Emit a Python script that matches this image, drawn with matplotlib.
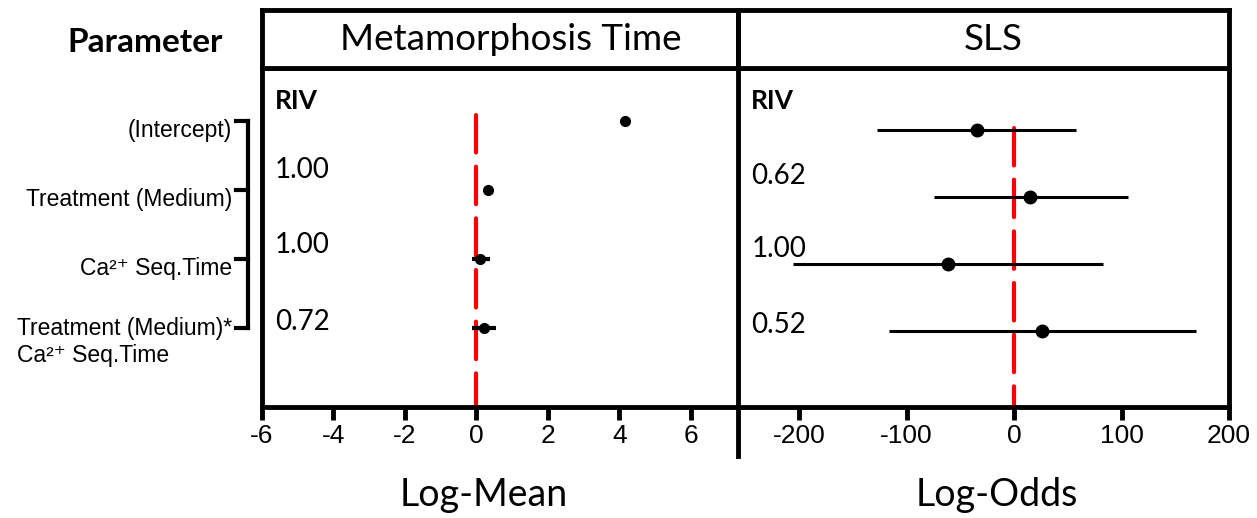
import numpy as np
import matplotlib
matplotlib.use("Agg")
import matplotlib.pyplot as plt
from matplotlib.transforms import blended_transform_factory
from matplotlib.lines import Line2D

plt.rcParams['font.family'] = ['Liberation Sans', 'DejaVu Sans']
plt.rcParams['axes.unicode_minus'] = False

# parameters (rows, top to bottom)
params = ['(Intercept)', 'Treatment (Medium)', 'Ca²⁺ Seq.Time',
          'Treatment (Medium)*\nCa²⁺ Seq.Time']
rows = np.arange(len(params))

# Metamorphosis Time, log-mean estimates and intervals
mt_est = np.array([4.15, 0.32, 0.10, 0.22])
mt_lo = np.array([4.15, 0.32, -0.12, -0.12])
mt_hi = np.array([4.15, 0.32, 0.38, 0.55])
mt_riv = ['1.00', '1.00', '0.72']

# SLS, log-odds estimates and intervals
sls_est = np.array([-35, 15, -62, 26])
sls_lo = np.array([-128, -75, -206, -116])
sls_hi = np.array([58, 106, 83, 169])
sls_riv = ['0.62', '1.00', '0.52']

mt_ticks = [-6, -4, -2, 0, 2, 4, 6]
sls_ticks = [-200, -100, 0, 100, 200]

W, H = 1257, 518
def box(x0, y0, x1, y1):
    return [x0 / W, 1 - y1 / H, (x1 - x0) / W, (y1 - y0) / H]

CAL = ['Lato', 'DejaVu Sans']
LW = 3.5

fig = plt.figure(figsize=(W / 100, H / 100), dpi=100)

ax1 = fig.add_axes(box(262, 68, 738, 407))
ax2 = fig.add_axes(box(738, 68, 1229, 407))
h1 = fig.add_axes(box(262, 10, 738, 68))
h2 = fig.add_axes(box(738, 10, 1229, 68))

for h, title, cx in [(h1, 'Metamorphosis Time', 0.522), (h2, 'SLS', 0.52)]:
    h.set_xticks([])
    h.set_yticks([])
    for s in h.spines.values():
        s.set_linewidth(LW)
    h.text(cx, 0.5, title, transform=h.transAxes, ha='center', va='center',
           fontsize=26.5, family=CAL)

panels = [
    (ax1, mt_est, mt_lo, mt_hi, mt_riv, mt_ticks, (-6, 7.32), (4.14, -0.77), -0.09, 'Log-Mean', 484),
    (ax2, sls_est, sls_lo, sls_hi, sls_riv, sls_ticks, (-257, 200), (4.13, -0.93), -0.03, 'Log-Odds', 997),
]

riv_y = [0.699, 0.478, 0.251]
riv_y2 = [0.681, 0.466, 0.242]

for k, (ax, est, lo, hi, riv, ticks, xl, yl, top, xlab, xlx) in enumerate(panels):
    ax.plot([0, 0], [top, yl[0]], color='red', lw=3, dashes=[9, 3.4],
            dash_capstyle='round', zorder=1)
    ax.errorbar(est, rows, xerr=[est - lo, hi - est], fmt='o', color='k',
                ms=9 if k else 7, elinewidth=2.2 if k else 3, capsize=0, zorder=3)
    ax.set_xlim(*xl)
    ax.set_ylim(*yl)
    ax.set_yticks([])
    ax.set_xticks(ticks)
    ax.set_xticklabels([str(t) for t in ticks])
    ax.tick_params(axis='x', length=9, width=3.5, labelsize=19, pad=3)
    for s in ax.spines.values():
        s.set_linewidth(LW)
    if k == 0:
        ax.spines['right'].set_visible(False)
    else:
        ax.spines['left'].set_visible(False)
    ax.text(0.027, 0.903, 'RIV', transform=ax.transAxes, fontsize=19,
            fontweight='bold', family=CAL, ha='left', va='center')
    ys = riv_y if k == 0 else riv_y2
    for v, y in zip(riv, ys):
        ax.text(0.027, y, v, transform=ax.transAxes, fontsize=20, family=CAL,
                ha='left', va='center')
    fig.text(xlx / W, 1 - 495 / H, xlab, fontsize=27, family=CAL,
             ha='center', va='center')

# divider between panels
fig.add_artist(Line2D([738 / W, 738 / W], [1 - 10 / H, 1 - 456 / H],
                      color='k', lw=LW, transform=fig.transFigure))

# parameter labels and bracket
tr = blended_transform_factory(ax1.transAxes, ax1.transData)
for i, lab in enumerate(params):
    if '\n' in lab:
        ax1.text(-0.063, rows[i] - 0.17, lab, transform=tr, ha='right', va='top',
                 multialignment='left', fontsize=16.5, linespacing=1.25)
    else:
        ax1.text(-0.063, rows[i] + 0.13, lab, transform=tr, ha='right',
                 va='center', fontsize=16.5)
ax1.plot([-0.0294, -0.0294], [rows[0], rows[-1]], color='k', lw=3,
         transform=tr, clip_on=False, solid_capstyle='projecting')
for r in rows:
    ax1.plot([-0.055, -0.0294], [r, r], color='k', lw=3, transform=tr,
             clip_on=False, solid_capstyle='projecting')

fig.text(145 / W, 1 - 42 / H, 'Parameter', fontsize=24, fontweight='bold',
         family=CAL, ha='center', va='center')

fig.savefig('out.png', dpi=100, facecolor='white')
